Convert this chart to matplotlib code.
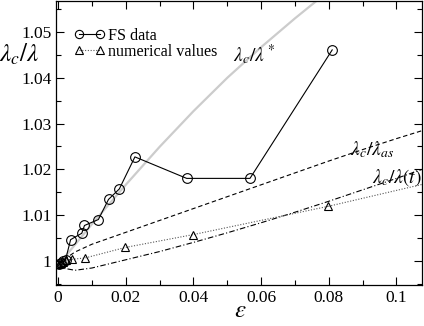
import matplotlib
matplotlib.use("Agg")
import matplotlib.pyplot as plt
from matplotlib.ticker import MultipleLocator

plt.rcParams['font.family'] = ['Liberation Serif', 'DejaVu Serif']
plt.rcParams['mathtext.fontset'] = 'stix'

# FS data (circles)
fs_eps = [0.0002, 0.0008, 0.0015, 0.0022, 0.0037, 0.0070, 0.0078, 0.0119,
          0.0149, 0.0181, 0.0227, 0.0380, 0.0567, 0.0810]
fs_val = [0.9993, 0.9996, 0.9999, 1.0002, 1.0046, 1.0060, 1.0077, 1.0090,
          1.0134, 1.0157, 1.0227, 1.0180, 1.0180, 1.0461]

# numerical values (triangles)
num_eps = [0.0002, 0.0008, 0.0015, 0.0022, 0.0040, 0.0080, 0.0199, 0.0399, 0.0799]
num_val = [0.9993, 0.9995, 0.9998, 1.0001, 1.0003, 1.0006, 1.0029, 1.0057, 1.0119]
num_tail_eps = [0.0799, 0.11]
num_tail_val = [1.0119, 1.0171]

# lambda_c / lambda*  (grey)
star_eps = [0.0, 0.01, 0.02, 0.03, 0.04, 0.05, 0.06, 0.07, 0.08, 0.09]
star_val = [0.9990, 1.0080, 1.0166, 1.0249, 1.0327, 1.0400, 1.0467, 1.0530, 1.0590, 1.0645]

# lambda_c / lambda_as  (dashed)
as_eps = [0.0, 0.005, 0.01, 0.02, 0.03, 0.04, 0.05, 0.06, 0.07, 0.08, 0.09, 0.10, 0.11]
as_val = [0.9994, 1.0019, 1.0036, 1.0062, 1.0088, 1.0114, 1.0140, 1.0166,
          1.0192, 1.0218, 1.0243, 1.0267, 1.0290]

# lambda_c / lambda(t)  (dash-dot)
t_eps = [0.0, 0.002, 0.005, 0.01, 0.015, 0.02, 0.03, 0.04, 0.05, 0.06, 0.07,
         0.08, 0.09, 0.10, 0.11]
t_val = [0.9994, 0.9983, 0.9979, 0.9984, 0.9993, 1.0002, 1.0020, 1.0040, 1.0061,
         1.0083, 1.0106, 1.0130, 1.0155, 1.0180, 1.0206]

fig = plt.figure(figsize=(4.24, 3.26), dpi=100)
ax = fig.add_axes([0.133, 0.126, 0.862, 0.871])

ax.plot(star_eps, star_val, color='#cccccc', lw=1.6, zorder=1)
ax.plot(as_eps, as_val, color='black', lw=0.8, ls=(0, (4, 2.5)), zorder=2)
ax.plot(t_eps, t_val, color='black', lw=0.8, ls=(0, (5, 2, 1, 2)), zorder=2)
ax.plot(num_tail_eps, num_tail_val, color='#555555', lw=0.8, ls=(0, (1, 1.5)), zorder=2)
ax.plot(num_eps, num_val, color='#555555', lw=0.8, ls=(0, (1, 1.5)),
        marker='^', ms=6, mfc='none', mec='black', mew=0.8,
        label='numerical values', zorder=3)
ax.plot(fs_eps, fs_val, color='black', lw=0.8, marker='o', ms=7,
        mfc='none', mec='black', mew=0.8, label='FS data', zorder=4)

ax.set_xlim(-0.0005, 0.1075)
ax.set_ylim(0.9947, 1.0568)

ax.xaxis.set_major_locator(MultipleLocator(0.02))
ax.xaxis.set_minor_locator(MultipleLocator(0.01))
ax.yaxis.set_major_locator(MultipleLocator(0.01))
ax.yaxis.set_minor_locator(MultipleLocator(0.005))
ax.xaxis.set_major_formatter(plt.FuncFormatter(lambda v, p: f"{v:g}"))
ax.yaxis.set_major_formatter(plt.FuncFormatter(lambda v, p: f"{v:g}"))

ax.tick_params(which='both', direction='in', top=True, right=True,
               labelsize=12.5, width=0.8)
ax.tick_params(which='major', length=6)
ax.tick_params(which='minor', length=3.5)
for s in ax.spines.values():
    s.set_linewidth(0.9)

handles, labels = ax.get_legend_handles_labels()
ax.legend(handles[::-1], labels[::-1], loc='upper left',
          bbox_to_anchor=(0.05, 0.905), frameon=False, fontsize=11.6,
          borderaxespad=0, borderpad=0, handletextpad=0.2, numpoints=2,
          labelspacing=0.0, handlelength=1.85, markerscale=0.85)

ax.text(0.058, 1.0451, r'$\lambda_c/\lambda^*$', fontsize=14,
        ha='center', va='center')
ax.text(0.0928, 1.0242, r'$\lambda_c/\lambda_{as}$', fontsize=14,
        ha='center', va='center')
ax.text(0.1000, 1.0182, r'$\lambda_c/\lambda(t)$', fontsize=14,
        ha='center', va='center')

fig.text(0.045, 0.832, r'$\lambda_c/\lambda$', fontsize=18,
         ha='center', va='center')
fig.text(0.566, 0.045, r'$\varepsilon$', fontsize=18,
         ha='center', va='center')

fig.savefig('out.png', dpi=100)
